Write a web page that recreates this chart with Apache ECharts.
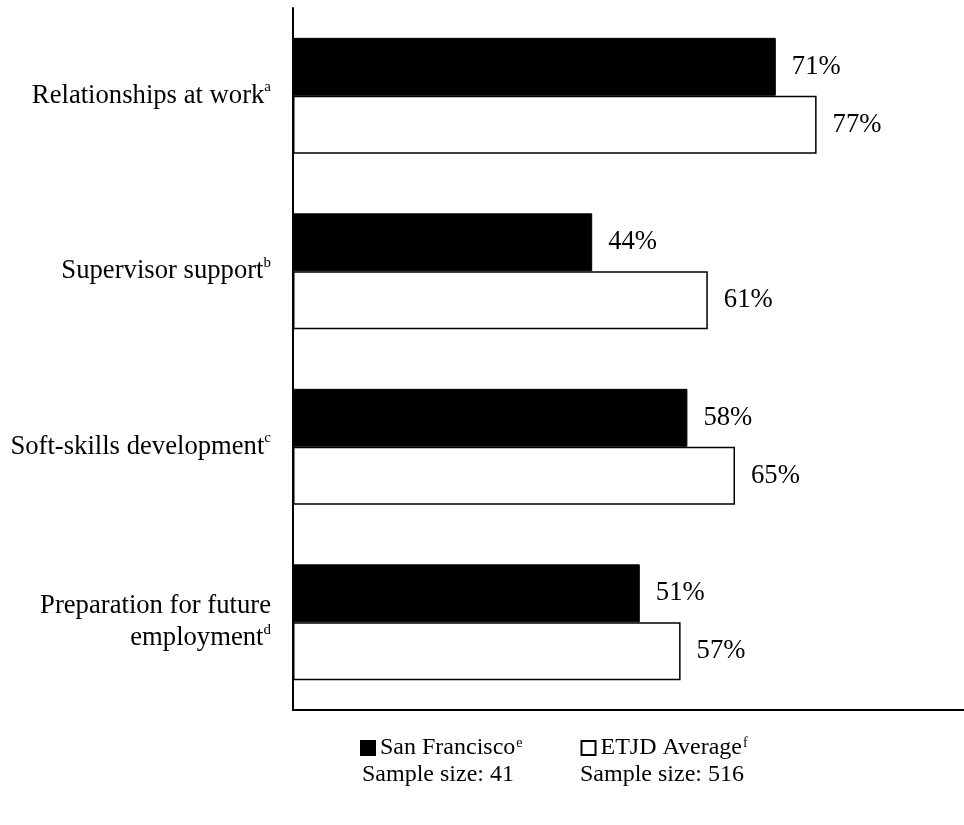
<!DOCTYPE html>
<html>
<head>
<meta charset="utf-8">
<script src="https://cdn.jsdelivr.net/npm/echarts@6/dist/echarts.min.js"></script>
<style>html,body{margin:0;padding:0;background:#fff}#c{width:964px;height:825px}</style>
</head>
<body>
<div id="c"></div>
<script>
var categories = ['Relationships at work', 'Supervisor support', 'Soft-skills development', 'Preparation for future\nemployment'];
var categoryNotes = ['a', 'b', 'c', 'd'];
var seriesNames = ['San Francisco', 'ETJD Average'];
var seriesNotes = ['e', 'f'];
var sampleSizes = [41, 516];
var sanFrancisco = [71, 44, 58, 51];
var etjdAverage = [77, 61, 65, 57];

var FONT = '"Liberation Serif", "DejaVu Serif", serif';
var FS = 26.67;
var SUP = 15;
var LFS = 24;
var chart = echarts.init(document.getElementById('c'));

function catLabel(value) {
  var i = categories.indexOf(value);
  var parts = value.split('\n');
  var out = [];
  for (var k = 0; k < parts.length; k++) {
    if (k === parts.length - 1) out.push('{m|' + parts[k] + '}{s|' + categoryNotes[i] + '}');
    else out.push('{m|' + parts[k] + '}');
  }
  return out.join('\n');
}

var labelStyle = {
  show: true, position: 'right', distance: 16,
  formatter: '{c}%', fontFamily: FONT, fontSize: FS, color: '#000'
};

chart.setOption({
  animation: false,
  backgroundColor: '#fff',
  grid: { left: 293, width: 680, top: 8, height: 702, containLabel: false, outerBoundsMode: 'none' },
  xAxis: {
    type: 'value', min: 0, max: 100,
    axisLine: { show: true, lineStyle: { color: '#000', width: 2 } },
    axisTick: { show: false }, axisLabel: { show: false }, splitLine: { show: false }
  },
  yAxis: {
    type: 'category', data: categories, inverse: true,
    axisLine: { show: true, lineStyle: { color: '#000', width: 2 } },
    axisTick: { show: false },
    axisLabel: {
      margin: 22, align: 'right', formatter: catLabel,
      rich: {
        m: { fontFamily: FONT, fontSize: FS, color: '#000', lineHeight: 32 },
        s: { fontFamily: FONT, fontSize: SUP, color: '#000', verticalAlign: 'top', lineHeight: 32, padding: [0, 0, 10, 0] }
      }
    }
  },
  legend: {
    left: 355, top: 731, itemWidth: 14, itemHeight: 14, itemGap: 58,
    icon: 'rect',
    data: seriesNames,
    formatter: function (name) {
      var i = seriesNames.indexOf(name);
      return '{n|' + name + '}{s|' + seriesNotes[i] + '}';
    },
    textStyle: {
      rich: {
        n: { fontFamily: FONT, fontSize: LFS, color: '#000' },
        s: { fontFamily: FONT, fontSize: 14, color: '#000', verticalAlign: 'top', padding: [0, 0, 9, 1] }
      }
    }
  },
  graphic: [
    { type: 'text', left: 362, top: 763, style: { text: 'Sample size: ' + sampleSizes[0], font: LFS + 'px ' + FONT, fill: '#000' } },
    { type: 'text', left: 580, top: 763, style: { text: 'Sample size: ' + sampleSizes[1], font: LFS + 'px ' + FONT, fill: '#000' } }
  ],
  series: [
    {
      name: seriesNames[0], type: 'bar', data: sanFrancisco,
      barGap: '0%', barCategoryGap: '34%',
      itemStyle: { color: '#000', borderColor: '#000', borderWidth: 1 },
      label: labelStyle
    },
    {
      name: seriesNames[1], type: 'bar', data: etjdAverage,
      itemStyle: { color: '#fff', borderColor: '#000', borderWidth: 1.5 },
      label: labelStyle
    }
  ]
});
</script>
</body>
</html>
